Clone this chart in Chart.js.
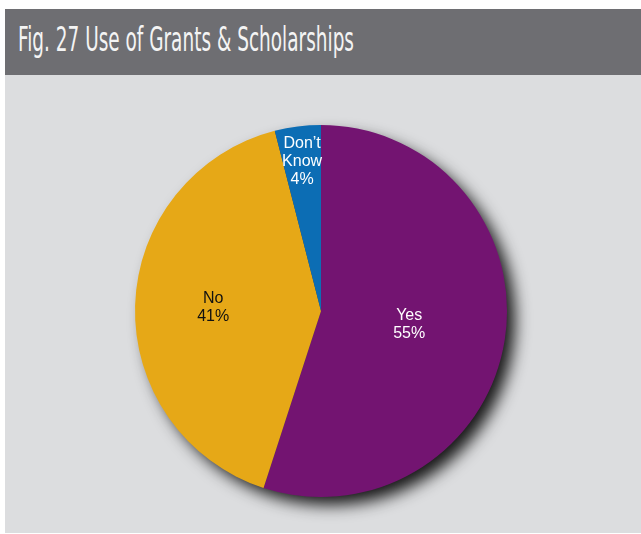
<!DOCTYPE html>
<html>
<head>
<meta charset="utf-8">
<script src="https://cdn.jsdelivr.net/npm/chart.js@4/dist/chart.umd.min.js"></script>
<style>
  html, body { margin: 0; padding: 0; background: #ffffff; }
  body { width: 641px; height: 534px; position: relative; overflow: hidden; }
  #titlebar {
    position: absolute; left: 5px; top: 9px; width: 636px; height: 66px;
    background: #6e6e72;
  }
  #title {
    position: absolute; left: 13px; top: 12px; white-space: nowrap;
    font-family: "Liberation Sans Narrow", "DejaVu Sans Condensed", "DejaVu Sans", sans-serif;
    font-stretch: condensed;
    font-size: 33px; line-height: 38px; color: #f4f4f4;
    transform-origin: 0 0;
  }
  #panel {
    position: absolute; left: 5px; top: 75px; width: 636px; height: 458px;
    background: #dcdddf;
  }
  #panel canvas { display: block; }
</style>
</head>
<body>
<div id="titlebar"><span id="title">Fig. 27 Use of Grants &amp; Scholarships</span></div>
<div id="panel"><canvas id="chart" width="636" height="458"></canvas></div>
<script>
// Survey answers and their shares (%)
const categories = ["Yes", "No", "Don't Know"];
const shares = [55, 41, 4];
const sliceColors = ["#731471", "#e6a817", "#0c6db4"];
const labelColors = ["#ffffff", "#111111", "#ffffff"];

// Condensed headline: squeeze to the width of the title bar text block
(function fitTitle() {
  const t = document.getElementById('title');
  const w = t.getBoundingClientRect().width;
  const target = 336;
  t.style.transform = 'scaleX(' + (target / w) + ')';
})();

// Soft drop shadow behind the whole pie, drawn from the arc geometry
const pieShadow = {
  id: 'pieShadow',
  beforeDatasetsDraw(chart) {
    const arc = chart.getDatasetMeta(0).data[0];
    if (!arc) return;
    const ctx = chart.ctx;
    ctx.save();
    ctx.shadowColor = 'rgba(0,0,0,0.9)';
    ctx.shadowBlur = 16;
    ctx.shadowOffsetX = 9;
    ctx.shadowOffsetY = 9;
    ctx.fillStyle = '#444';
    ctx.beginPath();
    ctx.arc(arc.x, arc.y, arc.outerRadius - 1, 0, Math.PI * 2);
    ctx.fill();
    ctx.restore();
  }
};

// Category name and percentage written inside each slice
const sliceLabels = {
  id: 'sliceLabels',
  afterDatasetsDraw(chart, args, opts) {
    const ctx = chart.ctx;
    const meta = chart.getDatasetMeta(0);
    const values = chart.data.datasets[0].data;
    ctx.save();
    ctx.font = '16px "Liberation Sans", Arial, sans-serif';
    ctx.textAlign = 'center';
    ctx.textBaseline = 'middle';
    meta.data.forEach((arc, i) => {
      const mid = (arc.startAngle + arc.endAngle) / 2;
      const r = arc.outerRadius * opts.radii[i];
      const cx = arc.x + Math.cos(mid) * r;
      const cy = arc.y + Math.sin(mid) * r;
      const name = chart.data.labels[i];
      const lines = (name === "Don't Know" ? ["Don\u2019t", "Know"] : [name]).concat([values[i] + '%']);
      const lh = 18;
      const top = cy - (lines.length - 1) * lh / 2;
      ctx.fillStyle = labelColors[i];
      lines.forEach((ln, k) => ctx.fillText(ln, cx, top + k * lh));
    });
    ctx.restore();
  }
};

new Chart(document.getElementById('chart'), {
  type: 'pie',
  data: {
    labels: categories,
    datasets: [{
      data: shares,
      backgroundColor: sliceColors,
      borderWidth: 0
    }]
  },
  options: {
    responsive: false,
    animation: false,
    layout: { padding: { left: 130, right: 134, top: 50, bottom: 36 } },
    plugins: {
      legend: { display: false },
      tooltip: { enabled: false },
      sliceLabels: { radii: [0.48, 0.58, 0.81] }
    }
  },
  plugins: [pieShadow, sliceLabels]
});
</script>
</body>
</html>
